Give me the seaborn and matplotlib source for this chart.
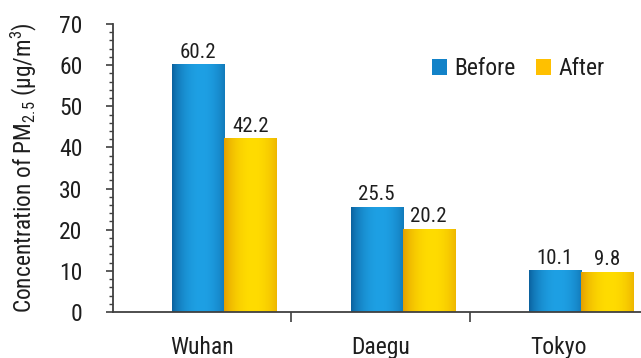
import numpy as np
import pandas as pd
import matplotlib
matplotlib.use("Agg")
import matplotlib.pyplot as plt
from matplotlib.patches import Patch
from matplotlib.colors import to_rgb
import seaborn as sns

# PM2.5 concentrations (ug/m3) before and after
cities = ["Wuhan", "Daegu", "Tokyo"]
periods = ["Before", "After"]
before = [60.2, 25.5, 10.1]
after = [42.2, 20.2, 9.8]
y_ticks = [0, 10, 20, 30, 40, 50, 60, 70]

df = pd.DataFrame({
    "city": cities * 2,
    "period": [periods[0]] * len(cities) + [periods[1]] * len(cities),
    "value": before + after,
})

blue = "#1282c8"
yellow = "#ffc000"
# edge / centre shades for the cylinder-style shading of each series
shades = {
    "Before": ("#0a5f9c", "#1ea0e4"),
    "After": ("#e29c00", "#ffdc00"),
}

FONT = "Roboto Condensed"
sns.set_theme(style="white")
plt.rcParams["font.family"] = [FONT, "DejaVu Sans"]
plt.rcParams["mathtext.fontset"] = "custom"
plt.rcParams["mathtext.rm"] = FONT
plt.rcParams["mathtext.it"] = FONT
plt.rcParams["mathtext.default"] = "rm"

W, H = 641, 358
fig = plt.figure(figsize=(W / 100, H / 100), dpi=100)
ax_left, ax_right, ax_top, ax_bottom = 113, 648, 24, 312
ax = fig.add_axes([ax_left / W, 1 - ax_bottom / H,
                   (ax_right - ax_left) / W, (ax_bottom - ax_top) / H])

sns.barplot(data=df, x="city", y="value", hue="period", hue_order=periods,
            order=cities, palette=[blue, yellow], width=0.584, dodge=True,
            saturation=1, edgecolor="none", legend=False, ax=ax)

# cylinder shading clipped to each bar
t = np.linspace(0, 1, 200)
prof = np.clip(1 - ((t - 0.55) / 0.55) ** 2, 0, 1) ** 0.8
for container, period in zip(ax.containers, periods):
    dark, light = (np.array(to_rgb(c)) for c in shades[period])
    row = dark[None, :] * (1 - prof[:, None]) + light[None, :] * prof[:, None]
    img = row[None, :, :]
    for bar in container:
        x0, w, h = bar.get_x(), bar.get_width(), bar.get_height()
        im = ax.imshow(img, extent=[x0, x0 + w, 0, h], aspect="auto",
                       interpolation="bilinear", zorder=bar.get_zorder() + 0.1)
        im.set_clip_path(bar)
    ax.bar_label(container, fmt="%.1f", padding=2, fontsize=15, color="#1e1e1e")

ax.set_ylim(0, 70)
ax.set_yticks(y_ticks)
ax.set_yticks(np.arange(0, 70, 2), minor=True)
ax.set_xlim(-0.624, 2.376)

# category labels sit slightly left of the bar pair, boundaries marked by ticks
ax.set_xticks([i - 0.124 for i in range(len(cities))])
ax.set_xticklabels(cities)
ax.set_xticks([-0.624 + i for i in range(1, len(cities))], minor=True)
ax.tick_params(axis="x", which="major", length=0, pad=17, labelsize=17, labelcolor="#1e1e1e")
ax.tick_params(axis="x", which="minor", bottom=True, direction="out", length=7,
               width=1.2, color="#404040")
ax.tick_params(axis="y", which="major", left=True, direction="out", length=5,
               width=1.2, color="#404040", labelsize=17, labelcolor="#1e1e1e", pad=17)
ax.tick_params(axis="y", which="minor", left=True, direction="out", length=3,
               width=1.0, color="#404040")

for side in ("top", "right"):
    ax.spines[side].set_visible(False)
for side in ("left", "bottom"):
    ax.spines[side].set_color("#404040")
    ax.spines[side].set_linewidth(1.3)

ax.set_xlabel("")
ax.set_ylabel("Concentration of PM$_{2.5}$ (\u03bcg/m$^{3}$)", fontsize=16.8,
              color="#1e1e1e", labelpad=14)

handles = [Patch(facecolor=blue, edgecolor="none"), Patch(facecolor=yellow, edgecolor="none")]
ax.legend(handles, periods, loc="center left", bbox_to_anchor=(0.596, 0.845),
          borderaxespad=0, borderpad=0, ncol=2, frameon=False, fontsize=17,
          handlelength=0.65, handleheight=0.65, handletextpad=0.3,
          columnspacing=0.85, labelcolor="#1e1e1e")

fig.savefig("out.png", dpi=100)
